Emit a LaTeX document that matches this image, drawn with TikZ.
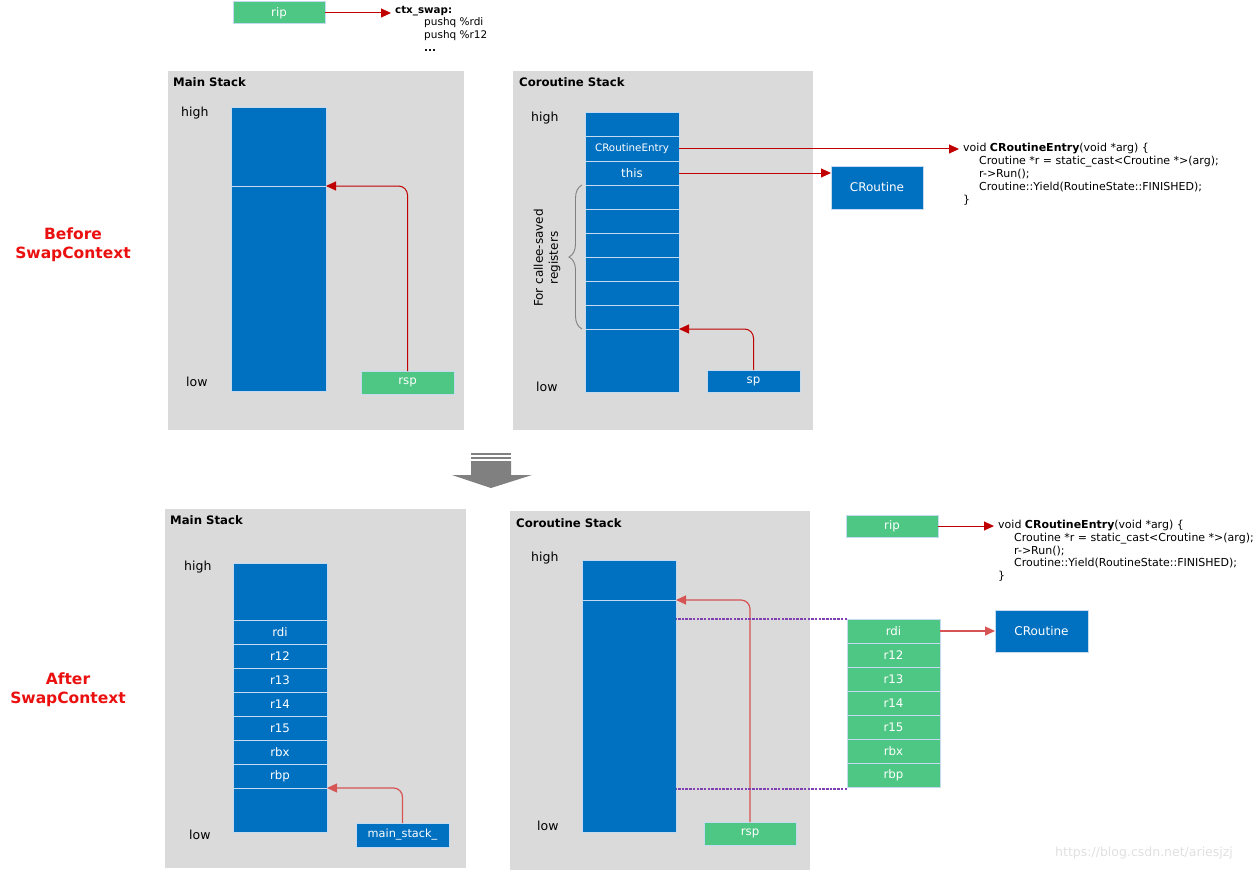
\documentclass[tikz,border=0pt]{standalone}
\usepackage{fontspec}
\setmainfont{DejaVu Sans}
\usepackage{tikz}
\usetikzlibrary{positioning,arrows.meta,decorations.pathreplacing}
\definecolor{stackblue}{RGB}{0,112,192}
\definecolor{reggreen}{RGB}{78,198,132}
\definecolor{panelgray}{RGB}{218,218,218}
\definecolor{cellline}{RGB}{196,218,240}
\definecolor{ptrred}{RGB}{192,0,0}
\definecolor{softred}{RGB}{214,84,84}
\definecolor{dotpurple}{RGB}{128,64,176}
\definecolor{arrowgray}{RGB}{128,128,128}
\definecolor{stagered}{RGB}{235,16,16}
\newcommand{\fs}[1]{\fontsize{#1}{1.2\dimexpr#1pt\relax}\selectfont}

\begin{document}
\begin{tikzpicture}[x=1pt, y=-1pt, >={Triangle[length=10pt,width=9pt]},
		panel/.style={draw=none, fill=panelgray, anchor=north west, inner sep=0pt, outer sep=0pt},
		title/.style={anchor=west, inner sep=0pt, font=\bfseries\fs{11.7}},
		side/.style={anchor=west, inner sep=0pt, font=\fs{12.5}},
		blk/.style={draw=cellline, line width=1pt, fill=stackblue, text=white, anchor=north west, minimum width=94, minimum height=24, inner sep=0pt, outer sep=0pt, font=\fs{11.8}},
		reg/.style={blk, fill=reggreen},
		stage/.style={text=stagered, align=center, font=\bfseries\fs{15.5}},
		code/.style={anchor=west, inner sep=4pt, font=\fs{11}},
		codebody/.style={anchor=north west, inner sep=0pt, align=left, font=\fontsize{11}{13}\selectfont},
		ptrLine/.style={draw=ptrred, line width=1pt, ->, rounded corners=9pt},
		softLine/.style={draw=softred, line width=1.2pt, ->, rounded corners=9pt},
		dotLine/.style={draw=dotpurple, line width=1.2pt, dash pattern=on 2.5pt off 1.2pt},
		]
		\useasboundingbox (0,0) rectangle (1258,872);
		
		% ---------------- before ----------------
		\node[reg, minimum width=92, minimum height=22] (ripA) at (233,2) {rip};
		\node[anchor=west, inner sep=4pt, font=\bfseries\fs{10.3}] (ctxHead) at (391,11) {ctx\_swap:};
		\node[codebody, font=\fontsize{10.5}{13}\selectfont] (ctxBody) at (424,17.5) {pushq \%rdi\\pushq \%r12\\\textbf{...}};
		\draw [ptrLine] (ripA) -- (ctxHead.west |- ripA);
		
		\node[panel, minimum width=296, minimum height=359] (mainA) at (168,71) {};
		\node[title] (mainAt) at (173,82) {Main Stack};
		\node[side] (highA) at (181,113) {high};
		\node[side] (lowA) at (186,382) {low};
		\node[blk, minimum width=95, minimum height=78] (mA1) at (231,108) {};
		\node[blk, minimum width=95, minimum height=205, below=0pt of mA1] (mA2) {};
		\node[reg, minimum width=93, minimum height=23] (rspA) at (361,371) {rsp};
		\draw [ptrLine] (rspA.north) |- (mA2.north east);
		
		\node[panel, minimum width=300, minimum height=359] (coA) at (513,71) {};
		\node[title] (coAt) at (519,82) {Coroutine Stack};
		\node[side] (highB) at (531,118) {high};
		\node[side] (lowB) at (536,387) {low};
		\node[blk] (cA1) at (585,113) {};
		\node[blk, below=0pt of cA1, font=\fs{10.3}] (cA2) {CRoutineEntry};
		\node[blk, below=0pt of cA2] (cA3) {this};
		\node[blk, below=0pt of cA3] (cA4) {};
		\node[blk, below=0pt of cA4] (cA5) {};
		\node[blk, below=0pt of cA5] (cA6) {};
		\node[blk, below=0pt of cA6] (cA7) {};
		\node[blk, below=0pt of cA7] (cA8) {};
		\node[blk, below=0pt of cA8] (cA9) {};
		\node[blk, minimum height=63, below=0pt of cA9] (cA10) {};
		\node[blk, minimum width=93, minimum height=22] (spA) at (707,370) {sp};
		\draw [ptrLine] (spA.north) |- (cA10.north east);
		
		\draw [draw=gray, line width=0.9pt, decorate, decoration={brace, amplitude=13pt}] ([xshift=-3pt]cA9.south west) -- ([xshift=-3pt]cA4.north west);
		\node[rotate=90, align=center, font=\fontsize{12}{15}\selectfont] (calleeNote) at (547,258) {For callee-saved\\registers};
		
		\node[blk, minimum width=92, minimum height=43, font=\fs{12}] (crA) at (831,166) {CRoutine};
		\draw [ptrLine] (cA3) -- (cA3 -| crA.west);
		
		\node[code] (entryA) at (959,149) {void \textbf{CRoutineEntry}(void *arg) \{};
		\node[codebody] (bodyA) at (963,155.5) {\hspace*{16pt}Croutine *r = static\_cast<Croutine *>(arg);\\\hspace*{16pt}r->Run();\\\hspace*{16pt}Croutine::Yield(RoutineState::FINISHED);\\\}};
		\draw [ptrLine] (cA2) -- (entryA);
		
		\node[stage] (before) at (73,245) {Before\\SwapContext};
		
		% ---------------- arrow between ----------------
		\fill[arrowgray] (471,453) rectangle (511,455);
		\fill[arrowgray] (471,457) rectangle (511,459);
		\fill[arrowgray] (471,461) -- (511,461) -- (511,475) -- (532,475) -- (491,488) -- (452,475) -- (471,475) -- cycle;
		
		% ---------------- after ----------------
		\node[panel, minimum width=301, minimum height=359] (mainB) at (165,509) {};
		\node[title] (mainBt) at (170,520) {Main Stack};
		\node[side] (highC) at (184,567) {high};
		\node[side] (lowC) at (189,835) {low};
		\node[blk, minimum height=57] (mB1) at (233,563) {};
		\node[blk, below=0pt of mB1] (mB2) {rdi};
		\node[blk, below=0pt of mB2] (mB3) {r12};
		\node[blk, below=0pt of mB3] (mB4) {r13};
		\node[blk, below=0pt of mB4] (mB5) {r14};
		\node[blk, below=0pt of mB5] (mB6) {r15};
		\node[blk, below=0pt of mB6] (mB7) {rbx};
		\node[blk, below=0pt of mB7] (mB8) {rbp};
		\node[blk, minimum height=44, below=0pt of mB8] (mB9) {};
		\node[blk, minimum width=93, minimum height=24, font=\fs{11.3}] (mainStack) at (356,823) {main\_stack\_};
		\draw [softLine] (mainStack.north) |- (mB9.north east);
		
		\node[panel, minimum width=300, minimum height=359] (coB) at (510,511) {};
		\node[title] (coBt) at (516,523) {Coroutine Stack};
		\node[side] (highD) at (531,558) {high};
		\node[side] (lowD) at (537,826) {low};
		\node[blk, minimum height=40] (cB1) at (582,560) {};
		\node[blk, minimum height=232, below=0pt of cB1] (cB2) {};
		\node[reg, minimum width=92, minimum height=23] (rspB) at (704,822) {rsp};
		\draw [softLine] (rspB.north) |- (cB2.north east);
		
		\node[reg, minimum width=93] (gB1) at (847,619) {rdi};
		\node[reg, minimum width=93, below=0pt of gB1] (gB2) {r12};
		\node[reg, minimum width=93, below=0pt of gB2] (gB3) {r13};
		\node[reg, minimum width=93, below=0pt of gB3] (gB4) {r14};
		\node[reg, minimum width=93, below=0pt of gB4] (gB5) {r15};
		\node[reg, minimum width=93, below=0pt of gB5] (gB6) {rbx};
		\node[reg, minimum width=93, below=0pt of gB6] (gB7) {rbp};
		\draw [dotLine] (gB1.north west) -- (gB1.north west -| cB2.east);
		\draw [dotLine] ([yshift=-2pt]gB7.south west) -- ([yshift=-2pt]gB7.south west -| cB2.east);
		
		\node[blk, minimum width=93, minimum height=42, font=\fs{12}] (crB) at (995,610) {CRoutine};
		\draw [softLine] (gB1) -- (crB);
		
		\node[reg, minimum width=92, minimum height=22] (ripB) at (846,515) {rip};
		\node[code] (entryB) at (994,526) {void \textbf{CRoutineEntry}(void *arg) \{};
		\node[codebody, font=\fontsize{11}{12.7}\selectfont] (bodyB) at (998,533) {\hspace*{16pt}Croutine *r = static\_cast<Croutine *>(arg);\\\hspace*{16pt}r->Run();\\\hspace*{16pt}Croutine::Yield(RoutineState::FINISHED);\\\}};
		\draw [ptrLine] (ripB) -- (entryB);
		
		\node[stage] (after) at (68,690) {After\\SwapContext};
		
		\node[anchor=west, inner sep=0pt, text=black!12, font=\fs{12.5}] (mark) at (1055,853) {https://blog.csdn.net/ariesjzj};
		
\end{tikzpicture}
\end{document}
